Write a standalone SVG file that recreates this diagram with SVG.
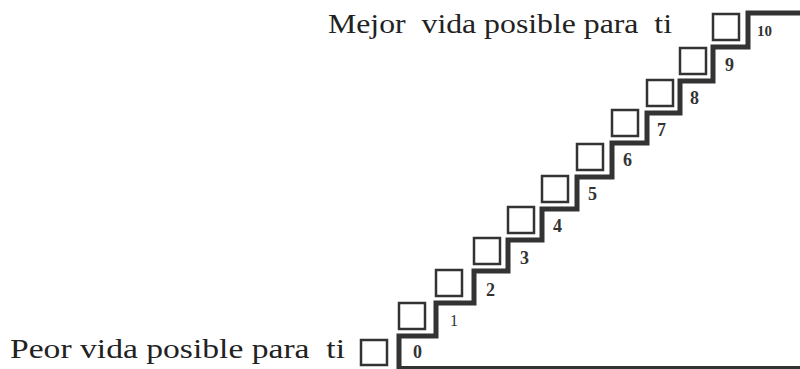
<svg xmlns="http://www.w3.org/2000/svg" width="800" height="369" viewBox="0 0 800 369">
<style>
.lbl{font-family:"Liberation Serif","Times New Roman",serif;font-size:28px;fill:#222}
.num{font-family:"Liberation Serif","Times New Roman",serif;font-size:18px;font-weight:bold;fill:#333}
.box{fill:#fff;stroke:#333;stroke-width:2.5}
.stair{fill:none;stroke:#333;stroke-width:5;stroke-linejoin:miter}
</style>
<rect width="800" height="369" fill="#fff"/>
<g id="connectors">
<path class="stair" d="M399,369 V336 H436 V303 H474 V271 H508 V240 H542 V209 H577 V177 H612 V143 H647 V113 H680 V81 H713 V47 H748 V13 H800"/>
<path class="stair" style="stroke-width:3" d="M397,367.5 H800"/>
</g>
<g id="label-worst"><text class="lbl" x="10" y="358" textLength="335" lengthAdjust="spacingAndGlyphs" xml:space="preserve">Peor vida posible para  ti</text></g>
<g id="label-best"><text class="lbl" x="328" y="33" textLength="344" lengthAdjust="spacingAndGlyphs" xml:space="preserve">Mejor  vida posible para  ti</text></g>
<g id="step0"><rect class="box" x="361" y="340" width="26" height="25"/><text class="num" x="413" y="358">0</text></g>
<g id="step1"><rect class="box" x="399" y="303" width="26" height="26"/><text class="num" x="450" y="326" style="font-weight:normal;font-size:16px">1</text></g>
<g id="step2"><rect class="box" x="436" y="270" width="26" height="26"/><text class="num" x="486" y="296">2</text></g>
<g id="step3"><rect class="box" x="474" y="238" width="26" height="26"/><text class="num" x="520" y="264">3</text></g>
<g id="step4"><rect class="box" x="508" y="207" width="26" height="26"/><text class="num" x="553" y="232">4</text></g>
<g id="step5"><rect class="box" x="542" y="176" width="26" height="26"/><text class="num" x="588" y="200">5</text></g>
<g id="step6"><rect class="box" x="577" y="144" width="26" height="26"/><text class="num" x="623" y="166">6</text></g>
<g id="step7"><rect class="box" x="612" y="110" width="26" height="26"/><text class="num" x="657" y="136">7</text></g>
<g id="step8"><rect class="box" x="647" y="80" width="26" height="26"/><text class="num" x="690" y="104">8</text></g>
<g id="step9"><rect class="box" x="680" y="48" width="26" height="26"/><text class="num" x="725" y="71">9</text></g>
<g id="step10"><rect class="box" x="713" y="14" width="26" height="26"/><text class="num" x="757" y="36" style="font-size:15px">10</text></g>
</svg>
